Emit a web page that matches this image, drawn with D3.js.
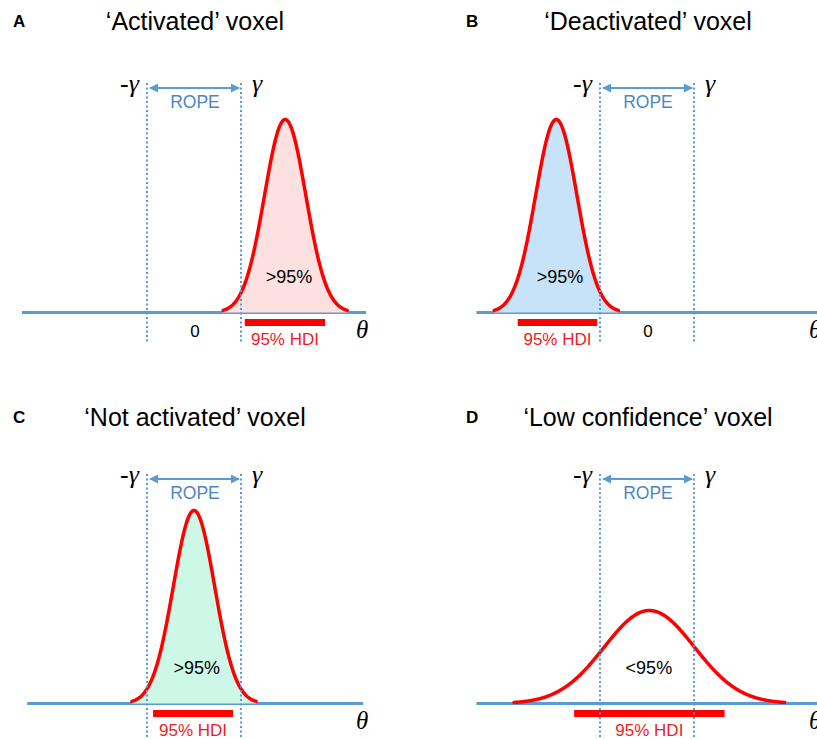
<!DOCTYPE html>
<html>
<head>
<meta charset="utf-8">
<script src="https://cdn.jsdelivr.net/npm/d3@7"></script>
<style>
  body { margin: 0; background: #fff; }
  svg { display: block; }
</style>
</head>
<body>
<script>
// panel data (theta in units of gamma)
var panelLetters = ["A", "B", "C", "D"];
var panelTitles = ["\u2018Activated\u2019 voxel", "\u2018Deactivated\u2019 voxel",
                   "\u2018Not activated\u2019 voxel", "\u2018Low confidence\u2019 voxel"];
var postMeans = [1.94, -1.93, 0.0, 0.05];
var postSDs = [0.44, 0.44, 0.44, 0.96];
var postPeaks = [0.965, 0.965, 0.965, 0.465];
var hdiLow = [1.08, -2.75, -0.87, -1.55];
var hdiHigh = [2.79, -1.06, 0.83, 1.65];
var massLabels = [">95%", ">95%", ">95%", "<95%"];
var massLabelX = [2.02, -1.85, 0.06, 0.04];
var showZero = [true, true, false, false];
var ropeBounds = [-1, 1];
var axisLeft = [-3.66, -3.63, -3.55, -3.63];
var axisRight = [3.66, 3.66, 3.6, 3.66];

var fills = ["#fde1e1", "#c7e3fa", "#cdf7e7", "none"];
var blue = "#5b9bd5";
var red = "#ff0000";

var svg = d3.select("body").append("svg")
  .attr("width", 817)
  .attr("height", 739);

var colX = [0, 453];
var rowY = [0, 391];
var titleRowY = [0, 396];

// arrow head for the ROPE span
svg.append("defs").append("marker")
  .attr("id", "head")
  .attr("viewBox", "0 0 10 10")
  .attr("refX", 9).attr("refY", 5)
  .attr("markerWidth", 4.5).attr("markerHeight", 4.5)
  .attr("orient", "auto-start-reverse")
  .append("path")
  .attr("d", "M0,0 L10,5 L0,10 z")
  .attr("fill", blue);

panelLetters.forEach(function(letter, i) {
  var c = i % 2, r = Math.floor(i / 2);

  var head = svg.append("g")
    .attr("transform", "translate(" + colX[c] + "," + titleRowY[r] + ")");
  head.append("text")
    .attr("x", 13).attr("y", 27)
    .style("font-family", "Liberation Sans, Arial, sans-serif")
    .style("font-weight", "bold")
    .style("font-size", "17px")
    .text(letter);
  head.append("text")
    .attr("x", 195).attr("y", 30)
    .attr("text-anchor", "middle")
    .style("font-family", "Liberation Sans, Arial, sans-serif")
    .style("font-size", "25px")
    .text(panelTitles[i]);

  var g = svg.append("g")
    .attr("transform", "translate(" + colX[c] + "," + rowY[r] + ")");

  var x = d3.scaleLinear().domain(ropeBounds).range([147, 241]);
  var y = d3.scaleLinear().domain([0, 1]).range([312.5, 112.5]);

  var lo = Math.max(axisLeft[i], postMeans[i] - 3.0 * postSDs[i]);
  var hi = Math.min(axisRight[i], postMeans[i] + 3.0 * postSDs[i]);
  var pts = d3.range(lo, hi + 0.001, 0.01).map(function(t) {
    var z = (t - postMeans[i]) / postSDs[i];
    return { t: t, v: postPeaks[i] * Math.exp(-0.5 * z * z) };
  });

  // horizontal theta axis
  g.append("line")
    .attr("x1", x(axisLeft[i])).attr("x2", x(axisRight[i]))
    .attr("y1", y(0)).attr("y2", y(0))
    .attr("stroke", blue).attr("stroke-width", 3);

  var area = d3.area()
    .x(function(d) { return x(d.t); })
    .y0(y(0))
    .y1(function(d) { return y(d.v); });
  var line = d3.line()
    .x(function(d) { return x(d.t); })
    .y(function(d) { return y(d.v); });

  if (fills[i] != "none") {
    g.append("path").datum(pts)
      .attr("d", area)
      .attr("fill", fills[i]);
  }
  g.append("path").datum(pts)
    .attr("d", line)
    .attr("fill", "none")
    .attr("stroke", red)
    .attr("stroke-width", 3.5)
    .attr("stroke-linecap", "round");

  // 95% HDI bar
  g.append("line")
    .attr("x1", x(hdiLow[i])).attr("x2", x(hdiHigh[i]))
    .attr("y1", 322.5).attr("y2", 322.5)
    .attr("stroke", red).attr("stroke-width", 7);
  g.append("text")
    .attr("x", x((hdiLow[i] + hdiHigh[i]) / 2)).attr("y", 345)
    .attr("text-anchor", "middle")
    .attr("fill", "#ee1c25")
    .style("font-family", "Liberation Sans, Arial, sans-serif")
    .style("font-size", "17px")
    .text("95% HDI");

  // ROPE boundaries
  g.selectAll(".rope").data(ropeBounds).enter().append("line")
    .attr("x1", function(d) { return x(d); })
    .attr("x2", function(d) { return x(d); })
    .attr("y1", 83).attr("y2", r == 0 ? 344 : 350)
    .attr("stroke", blue)
    .attr("stroke-width", 2)
    .attr("stroke-dasharray", "2,2.5");

  g.append("line")
    .attr("x1", x(ropeBounds[0]) + 3).attr("x2", x(ropeBounds[1]) - 2)
    .attr("y1", 88).attr("y2", 88)
    .attr("stroke", blue).attr("stroke-width", 2)
    .attr("marker-start", "url(#head)")
    .attr("marker-end", "url(#head)");
  g.append("text")
    .attr("x", x(0) + 1).attr("y", 108)
    .attr("text-anchor", "middle")
    .attr("fill", "#4e86c4")
    .style("font-family", "Liberation Sans, Arial, sans-serif")
    .style("font-size", "17.5px")
    .text("ROPE");

  g.append("text")
    .attr("x", x(ropeBounds[0]) - 8).attr("y", 92)
    .attr("text-anchor", "end")
    .style("font-family", "Liberation Serif, serif")
    .style("font-style", "italic")
    .style("font-size", "26px")
    .text("-\u03b3");
  g.append("text")
    .attr("x", x(ropeBounds[1]) + 11).attr("y", 92)
    .style("font-family", "Liberation Serif, serif")
    .style("font-style", "italic")
    .style("font-size", "26px")
    .text("\u03b3");

  g.append("text")
    .attr("x", x(massLabelX[i])).attr("y", 283)
    .attr("text-anchor", "middle")
    .style("font-family", "Liberation Sans, Arial, sans-serif")
    .style("font-size", "18px")
    .text(massLabels[i]);

  if (showZero[i]) {
    g.append("text")
      .attr("x", x(0) + 1).attr("y", 337)
      .attr("text-anchor", "middle")
      .style("font-family", "Liberation Sans, Arial, sans-serif")
      .style("font-size", "17px")
      .text("0");
  }

  g.append("text")
    .attr("x", 356).attr("y", 338)
    .style("font-family", "Liberation Serif, serif")
    .style("font-style", "italic")
    .style("font-size", "25px")
    .text("\u03b8");
});
</script>
</body>
</html>
